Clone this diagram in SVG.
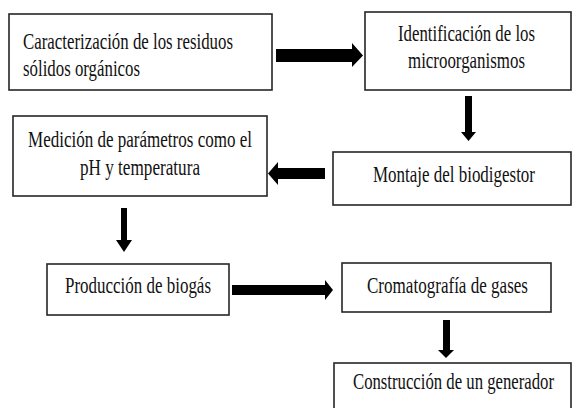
<svg xmlns="http://www.w3.org/2000/svg" width="574" height="408" viewBox="0 0 574 408">
<style>
.box{fill:#fff;stroke:#262626;stroke-width:1.6}
.t{font-family:"Liberation Serif","Times New Roman",serif;font-size:17px;fill:#111}
.arr{fill:#000}
</style>
<rect width="574" height="408" fill="#fff"/>
<g id="connectors">
<polygon class="arr" points="276,49 352,49 352,43 363,55.5 352,67 352,62 276,62"/>
<polygon class="arr" points="465,96 472,96 472,132 476,132 468.5,141 461,132 465,132"/>
<polygon class="arr" points="325,168 278,168 278,162 268,173.5 278,185 278,179 325,179"/>
<polygon class="arr" points="121,208 127,208 127,240 132,240 124,252 116,240 121,240"/>
<polygon class="arr" points="232,285 325,285 325,280 333,290 325,300 325,295 232,295"/>
<polygon class="arr" points="443,320 450,320 450,350 454,350 446,358 438,350 443,350"/>
</g>
<g id="n1">
<rect class="box" x="9" y="14" width="263" height="76"/>
<text class="t" transform="translate(23,49) scale(1,1.33)" textLength="210" lengthAdjust="spacingAndGlyphs">Caracterización de los residuos</text>
<text class="t" transform="translate(23,76) scale(1,1.33)" textLength="117" lengthAdjust="spacingAndGlyphs">sólidos orgánicos</text>
</g>
<g id="n2">
<rect class="box" x="365" y="12" width="206" height="78"/>
<text class="t" transform="translate(398,41) scale(1,1.33)" textLength="137" lengthAdjust="spacingAndGlyphs">Identificación de los</text>
<text class="t" transform="translate(408,68) scale(1,1.33)" textLength="117" lengthAdjust="spacingAndGlyphs">microorganismos</text>
</g>
<g id="n3">
<rect class="box" x="13" y="116" width="254" height="80"/>
<text class="t" transform="translate(28,147) scale(1,1.33)" textLength="224" lengthAdjust="spacingAndGlyphs">Medición de parámetros como el</text>
<text class="t" transform="translate(80,175) scale(1,1.33)" textLength="120" lengthAdjust="spacingAndGlyphs">pH y temperatura</text>
</g>
<g id="n4">
<rect class="box" x="333" y="152" width="238" height="53"/>
<text class="t" transform="translate(373,182) scale(1,1.33)" textLength="162" lengthAdjust="spacingAndGlyphs">Montaje del biodigestor</text>
</g>
<g id="n5">
<rect class="box" x="47" y="264" width="182" height="51"/>
<text class="t" transform="translate(65,293) scale(1,1.33)" textLength="146" lengthAdjust="spacingAndGlyphs">Producción de biogás</text>
</g>
<g id="n6">
<rect class="box" x="342" y="263" width="209" height="49"/>
<text class="t" transform="translate(367,293) scale(1,1.33)" textLength="161" lengthAdjust="spacingAndGlyphs">Cromatografía de gases</text>
</g>
<g id="n7">
<rect class="box" x="334" y="363" width="237" height="47"/>
<text class="t" transform="translate(353,389) scale(1,1.33)" textLength="201" lengthAdjust="spacingAndGlyphs">Construcción de un generador</text>
</g>
</svg>
